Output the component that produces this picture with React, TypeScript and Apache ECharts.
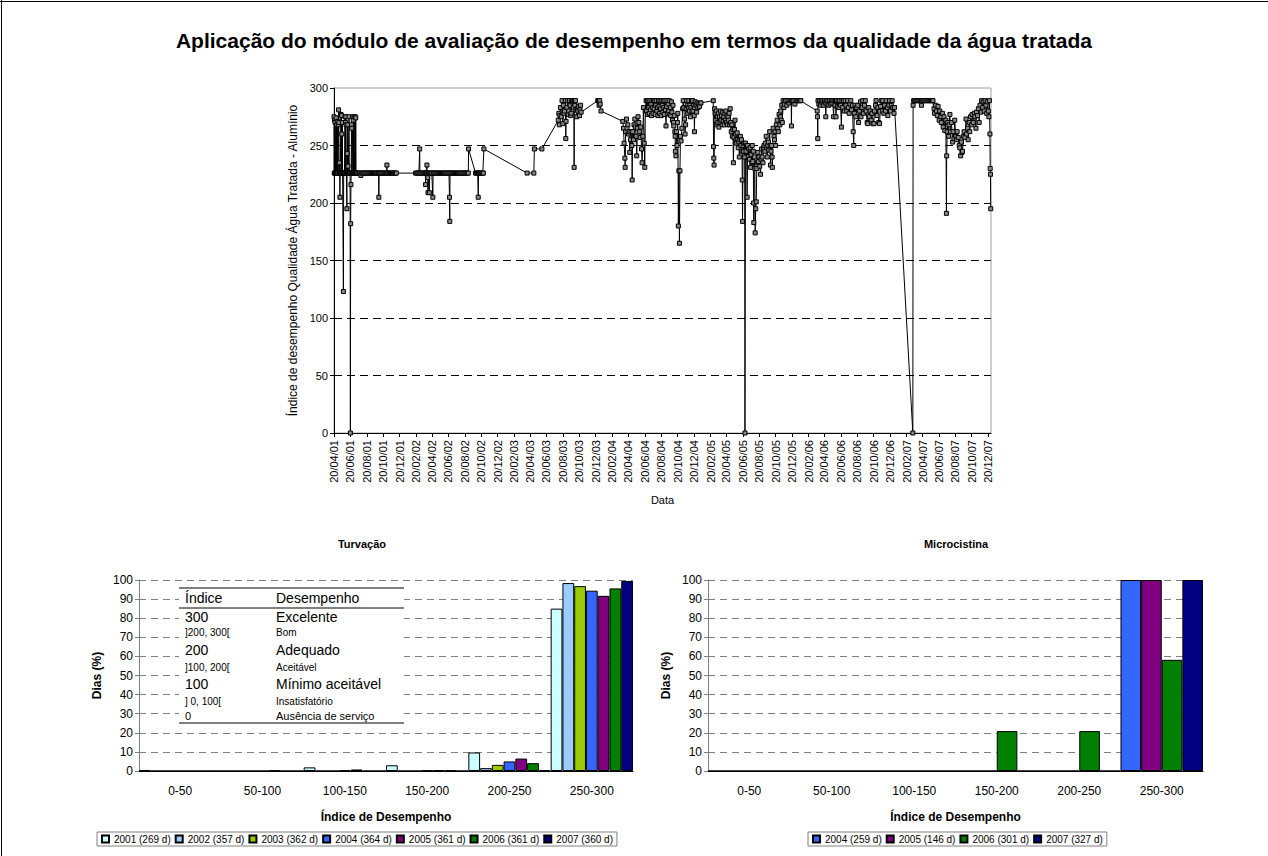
import React, { useEffect, useRef } from "react";
import * as echarts from "echarts";

const FONT = "'Liberation Sans', Arial, Helvetica, sans-serif";

// ---------- Top chart: daily index (Alumínio) ----------
// x = day number counted from 20/04/2001, y = performance index
const axisStart = Date.UTC(2001, 3, 20);
const axisEnd = Date.UTC(2007, 11, 31);

const alum2001 = [
  [0, 275], [1, 226], [2, 272], [3, 226], [4, 270], [5, 226], [6, 226], [8, 274], [9, 226], [10, 268], [11, 226], [12, 226],
  [14, 271], [15, 226], [16, 268], [17, 281], [18, 270], [19, 226], [20, 235], [21, 226], [22, 205], [23, 226], [24, 226],
  [26, 277], [27, 226], [28, 276], [29, 260], [30, 226], [31, 270], [32, 226], [33, 226], [35, 123], [36, 226], [37, 226],
  [39, 226], [41, 275], [42, 226], [43, 270], [44, 275], [45, 268], [46, 226], [47, 226], [48, 195], [49, 243], [50, 226],
  [51, 268], [52, 232], [53, 226], [54, 226], [56, 275], [57, 226], [58, 226], [60, 226], [61, 0], [62, 182], [63, 216],
  [64, 226], [65, 268], [66, 265], [67, 226], [68, 226], [70, 275], [71, 226], [72, 272], [73, 226], [75, 275], [76, 226],
  [77, 226], [79, 275], [80, 226], [81, 274], [82, 226], [84, 226], [86, 226], [90, 226], [94, 226], [97, 226], [100, 224],
  [103, 226], [107, 226], [111, 226], [115, 226], [119, 226], [123, 226], [127, 226], [131, 226], [135, 226], [139, 226],
  [143, 226], [147, 226], [151, 226], [155, 226], [159, 226], [163, 226], [166, 226], [167, 205], [168, 226], [171, 226],
  [175, 226], [179, 226], [183, 226], [187, 226], [191, 226], [195, 226], [197, 233], [198, 226], [202, 226], [206, 226],
  [210, 226], [214, 226], [218, 226], [222, 226], [226, 226], [229, 226], [232, 226],
];

const alum2002 = [
  [304, 226], [308, 226], [312, 226], [316, 226], [319, 247], [320, 226], [324, 226], [328, 226], [332, 226], [336, 226],
  [340, 226], [341, 216], [342, 226], [344, 226], [346, 233], [347, 226], [349, 222], [350, 209], [352, 226], [355, 209],
  [356, 226], [360, 226], [364, 226], [368, 205], [369, 226], [372, 226], [376, 226], [380, 226], [384, 226], [388, 226],
  [392, 226], [396, 226], [400, 226], [404, 226], [408, 226], [412, 226], [416, 226], [420, 226], [424, 226], [428, 226],
  [430, 205], [431, 184], [432, 226], [436, 226], [440, 226], [444, 226], [448, 226], [452, 226], [456, 226], [460, 226],
  [464, 226], [468, 226], [472, 226], [476, 226], [480, 226], [484, 226], [488, 226], [492, 226], [496, 226], [500, 226],
  [501, 247], [527, 226], [531, 226], [535, 226], [537, 205], [538, 226], [542, 226], [546, 226], [550, 226], [554, 226],
  [556, 226], [558, 247],
];

const alum2003 = [
  [719, 226], [744, 226], [746, 247], [774, 247], [835, 272], [837, 278], [839, 268], [841, 276], [843, 283], [846, 275],
  [849, 289], [850, 279], [852, 269], [854, 285], [856, 278], [858, 280], [861, 289], [863, 256], [864, 271], [867, 283],
  [870, 289], [872, 277], [874, 280], [877, 289], [879, 285], [881, 276], [883, 278], [885, 288], [887, 289], [889, 289],
  [891, 283], [893, 289], [894, 231], [895, 289], [897, 285], [899, 289], [901, 281], [904, 275], [906, 282], [908, 280],
  [911, 284], [914, 276], [916, 281], [918, 285], [920, 279], [982, 289], [985, 289], [987, 285], [989, 289], [991, 286],
  [994, 280],
];

const alum2004 = [
  [1075, 271], [1078, 265], [1080, 252], [1083, 239], [1084, 231], [1086, 262], [1089, 273], [1091, 265], [1094, 268],
  [1096, 260], [1099, 262], [1101, 244], [1104, 255], [1106, 262], [1109, 250], [1110, 220], [1112, 262], [1115, 255],
  [1117, 268], [1120, 273], [1122, 266], [1125, 258], [1127, 241], [1130, 265], [1132, 275], [1135, 270], [1137, 262],
  [1140, 257], [1142, 266], [1145, 247], [1147, 235], [1150, 258], [1152, 283], [1155, 252], [1157, 231], [1159, 280],
  [1162, 289], [1164, 280], [1166, 289], [1168, 277], [1170, 289], [1172, 283], [1174, 278], [1176, 289], [1178, 281],
  [1180, 286], [1182, 276], [1184, 289], [1186, 283], [1188, 278], [1190, 289], [1192, 282], [1194, 289], [1196, 277],
  [1198, 285], [1200, 289], [1202, 280], [1204, 283], [1206, 276], [1208, 289], [1210, 284], [1212, 278], [1214, 289],
  [1216, 282], [1218, 276], [1220, 289], [1222, 285], [1224, 279], [1226, 289], [1228, 283], [1230, 277], [1232, 289],
  [1234, 281], [1236, 267], [1238, 284], [1240, 289], [1242, 278], [1244, 286], [1246, 280], [1248, 289], [1250, 277],
  [1252, 283], [1254, 276], [1256, 288], [1258, 279], [1260, 272], [1262, 285], [1264, 270], [1265, 267], [1267, 276],
  [1269, 262], [1270, 258], [1271, 245], [1273, 241], [1275, 262], [1277, 250], [1279, 270], [1280, 278], [1282, 180],
  [1284, 228], [1286, 165], [1288, 228], [1290, 258], [1292, 254], [1295, 265], [1298, 282], [1300, 289], [1302, 283],
  [1305, 273], [1307, 260], [1309, 268], [1311, 282], [1313, 289], [1315, 285], [1317, 278], [1319, 283], [1321, 289],
  [1323, 280], [1325, 285], [1327, 275], [1329, 283], [1331, 289], [1333, 280], [1335, 289], [1337, 280], [1339, 285],
  [1341, 276], [1342, 262], [1343, 283], [1345, 288], [1348, 285], [1350, 279], [1352, 287], [1355, 283], [1358, 286],
  [1361, 284], [1364, 287], [1366, 287],
];

const alum2005 = [
  [1412, 289], [1413, 249], [1414, 239], [1415, 233], [1417, 282], [1419, 278], [1421, 272], [1423, 280], [1425, 268],
  [1427, 275], [1429, 270], [1431, 278], [1433, 266], [1435, 275], [1437, 270], [1439, 280], [1441, 272], [1443, 276],
  [1445, 268], [1447, 279], [1449, 271], [1451, 275], [1453, 268], [1455, 278], [1457, 272], [1459, 280], [1461, 270],
  [1463, 276], [1465, 268], [1467, 275], [1469, 272], [1471, 278], [1473, 268], [1475, 282], [1477, 270], [1479, 262],
  [1481, 268], [1483, 258], [1485, 264], [1487, 235], [1489, 257], [1491, 264], [1493, 272], [1495, 260], [1497, 255],
  [1499, 252], [1501, 261], [1503, 255], [1505, 248], [1507, 253], [1509, 240], [1511, 255], [1513, 258], [1515, 250],
  [1517, 255], [1519, 245], [1520, 220], [1521, 184], [1523, 250], [1525, 245], [1527, 252], [1529, 240], [1530, 0],
  [1532, 252], [1534, 245], [1536, 250], [1538, 205], [1540, 250], [1542, 240], [1544, 247], [1547, 238], [1549, 248],
  [1551, 231], [1553, 242], [1555, 235], [1557, 250], [1559, 236], [1561, 245], [1562, 200], [1563, 183], [1565, 240],
  [1567, 230], [1568, 174], [1570, 195], [1572, 201], [1574, 230], [1576, 235], [1578, 244], [1580, 236], [1582, 240],
  [1585, 232], [1588, 225], [1590, 238], [1592, 247], [1594, 240], [1597, 235], [1599, 248], [1601, 250], [1604, 245],
  [1606, 252], [1609, 258], [1611, 248], [1613, 240], [1615, 250], [1617, 253], [1619, 246], [1622, 262], [1624, 250],
  [1625, 233], [1627, 245], [1629, 250], [1631, 240], [1632, 231], [1635, 265], [1638, 258], [1640, 255], [1642, 262],
  [1644, 250], [1647, 268], [1650, 272], [1652, 265], [1654, 262], [1657, 277], [1660, 268], [1662, 275], [1663, 280],
  [1665, 272], [1667, 285], [1669, 270], [1672, 289], [1675, 283], [1677, 286], [1679, 289], [1682, 289], [1686, 285],
  [1690, 289], [1694, 287], [1698, 289], [1702, 289], [1703, 267], [1704, 289], [1708, 289], [1712, 289], [1716, 286],
  [1720, 289], [1724, 289], [1728, 289], [1732, 289], [1736, 289], [1738, 289],
];

const alum2006 = [
  [1799, 280], [1800, 275], [1801, 256], [1802, 289], [1805, 286], [1808, 289], [1811, 285], [1814, 289], [1817, 287],
  [1820, 289], [1823, 285], [1826, 289], [1829, 287], [1831, 275], [1833, 289], [1836, 286], [1839, 289], [1842, 285],
  [1845, 289], [1848, 286], [1851, 289], [1854, 287], [1857, 289], [1860, 275], [1862, 289], [1865, 285], [1867, 289],
  [1869, 275], [1871, 289], [1874, 284], [1877, 289], [1880, 283], [1883, 289], [1886, 285], [1889, 266], [1891, 289],
  [1894, 283], [1897, 289], [1900, 280], [1903, 289], [1906, 285], [1909, 280], [1912, 289], [1915, 283], [1918, 278],
  [1921, 286], [1924, 289], [1927, 281], [1930, 285], [1933, 262], [1935, 250], [1937, 278], [1940, 285], [1943, 275],
  [1946, 283], [1950, 285], [1953, 270], [1956, 280], [1960, 288], [1962, 275], [1966, 283], [1968, 289], [1971, 278],
  [1975, 285], [1978, 289], [1981, 280], [1985, 270], [1987, 269], [1991, 283], [1993, 275], [1996, 280], [2000, 272],
  [2003, 278], [2006, 269], [2010, 269], [2012, 280], [2016, 285], [2018, 289], [2022, 276], [2025, 283], [2028, 270],
  [2031, 269], [2035, 284], [2037, 289], [2041, 280], [2043, 289], [2047, 278], [2050, 285], [2053, 280], [2056, 289],
  [2060, 283], [2062, 276], [2066, 285], [2068, 289], [2072, 280], [2075, 285], [2078, 289], [2081, 283], [2085, 278],
  [2087, 283],
];

const alum2007 = [
  [2155, 0], [2156, 285], [2158, 289], [2162, 289], [2166, 289], [2170, 289], [2174, 289], [2178, 289], [2182, 289],
  [2186, 289], [2187, 285], [2188, 289], [2192, 289], [2196, 289], [2200, 289], [2204, 289], [2208, 289], [2212, 289],
  [2216, 289], [2220, 289], [2224, 289], [2228, 289], [2230, 289], [2234, 282], [2236, 278], [2240, 285], [2243, 280],
  [2246, 276], [2249, 284], [2253, 272], [2255, 280], [2259, 275], [2261, 270], [2265, 278], [2268, 266], [2271, 275],
  [2274, 263], [2278, 272], [2280, 191], [2281, 241], [2283, 262], [2285, 270], [2288, 258], [2290, 268], [2293, 277],
  [2295, 262], [2299, 270], [2303, 253], [2305, 262], [2308, 256], [2311, 272], [2315, 258], [2318, 255], [2320, 262],
  [2324, 257], [2328, 250], [2330, 248], [2333, 241], [2336, 253], [2338, 244], [2340, 245], [2343, 258], [2346, 262],
  [2349, 257], [2353, 273], [2355, 260], [2359, 265], [2361, 255], [2365, 270], [2367, 262], [2370, 275], [2374, 268],
  [2376, 277], [2380, 270], [2384, 278], [2386, 275], [2390, 265], [2392, 279], [2396, 276], [2399, 282], [2402, 270],
  [2405, 285], [2409, 279], [2411, 289], [2415, 283], [2417, 288], [2421, 280], [2424, 289], [2427, 285], [2430, 278],
  [2432, 288], [2436, 280], [2438, 275], [2440, 289], [2442, 260], [2443, 230], [2444, 225], [2445, 195],
];

// ---------- Bottom charts ----------
const binLabels = ["0-50", "50-100", "100-150", "150-200", "200-250", "250-300"];

const turvNames = ["2001 (269 d)", "2002 (357 d)", "2003 (362 d)", "2004 (364 d)", "2005 (361 d)", "2006 (361 d)", "2007 (360 d)"];
const turv2001 = [0.4, 0, 1.9, 3.0, 9.7, 85.0];
const turv2002 = [0, 0, 0, 0, 1.5, 98.4];
const turv2003 = [0, 0, 0, 0, 3.2, 96.8];
const turv2004 = [0, 0, 0.3, 0.3, 5.0, 94.4];
const turv2005 = [0, 0.3, 0.8, 0.4, 6.5, 91.7];
const turv2006 = [0, 0, 0, 0.3, 4.1, 95.6];
const turv2007 = [0, 0, 0, 0, 0.5, 99.5];

const microNames = ["2004 (259 d)", "2005 (146 d)", "2006 (301 d)", "2007 (327 d)"];
const micro2004 = [0, 0, 0, 0, 0, 100];
const micro2005 = [0, 0, 0, 0, 0, 100];
const micro2006 = [0, 0, 0, 20.9, 20.9, 58.2];
const micro2007 = [0, 0, 0, 0, 0, 100];

const tableHeader = ["Índice", "Desempenho"];
const tableIdx = ["300", "]200, 300[", "200", "]100, 200[", "100", "] 0, 100[", "0"];
const tableDesc = ["Excelente", "Bom", "Adequado", "Aceitável", "Mínimo aceitável", "Insatisfatório", "Ausência de serviço"];

const mainTitle = "Aplicação do módulo de avaliação de desempenho em termos da qualidade da água tratada";
const topYName = "Índice de desempenho Qualidade Água Tratada - Alumínio";

// styles
const yearColors: Record<string, string> = {
  "2001": "#CCFFFF", "2002": "#99CCFF", "2003": "#99CC00", "2004": "#3366FF",
  "2005": "#800080", "2006": "#008000", "2007": "#000080",
};
const tableRowY = [617, 632, 650, 667, 684, 701, 716];
const tableRowSize = [14, 10, 14, 10, 14, 10, 11];

function buildDays(): string[] {
  const out: string[] = [];
  for (let t = axisStart; t <= axisEnd; t += 86400000) {
    const d = new Date(t);
    const dd = String(d.getUTCDate()).padStart(2, "0");
    const mm = String(d.getUTCMonth() + 1).padStart(2, "0");
    const yy = String(d.getUTCFullYear() % 100).padStart(2, "0");
    out.push(dd + "/" + mm + "/" + yy);
  }
  return out;
}

function buildOption() {
  const days = buildDays();
  const showTick = (_i: number, v: string) => v.slice(0, 2) === "20" && Number(v.slice(3, 5)) % 2 === 0;
  const points = [...alum2001, ...alum2002, ...alum2003, ...alum2004, ...alum2005, ...alum2006, ...alum2007];

  const turvData = [turv2001, turv2002, turv2003, turv2004, turv2005, turv2006, turv2007];
  const microData = [micro2004, micro2005, micro2006, micro2007];

  const barSeries = (names: string[], data: number[][], idx: number) =>
    names.map((n, i) => ({
      type: "bar",
      name: n,
      xAxisIndex: idx,
      yAxisIndex: idx,
      data: data[i],
      barGap: "0%",
      barCategoryGap: "0%",
      itemStyle: { color: yearColors[n.slice(0, 4)], borderColor: "#000", borderWidth: 1 },
      silent: true,
    }));

  const bottomX = (gi: number) => ({
    gridIndex: gi,
    type: "category",
    data: binLabels,
    axisLine: { lineStyle: { color: "#000", width: 1 } },
    axisTick: { length: 5, lineStyle: { color: "#000" } },
    axisLabel: { fontSize: 12, color: "#000", margin: 14, fontFamily: FONT },
    name: "Índice de Desempenho",
    nameLocation: "middle",
    nameGap: 40,
    nameTextStyle: { fontSize: 12, fontWeight: "bold", color: "#000", fontFamily: FONT },
  });
  const bottomY = (gi: number) => ({
    gridIndex: gi,
    type: "value",
    min: 0,
    max: 100,
    interval: 10,
    axisLine: { show: true, lineStyle: { color: "#808080" } },
    axisTick: { show: true, length: 4, lineStyle: { color: "#808080" } },
    axisLabel: { fontSize: 12, color: "#000", margin: 6, fontFamily: FONT },
    splitLine: { show: true, lineStyle: { color: "#808080", type: [7, 5], width: 1 } },
    name: "Dias (%)",
    nameLocation: "middle",
    nameGap: 36,
    nameTextStyle: { fontSize: 12, fontWeight: "bold", color: "#000", fontFamily: FONT },
  });

  const legendBase = {
    orient: "horizontal",
    top: 832,
    icon: "rect",
    itemWidth: 7,
    itemHeight: 7,
    itemGap: 4,
    padding: [2, 4, 2, 4],
    borderColor: "#808080",
    borderWidth: 1,
    selectedMode: false,
    textStyle: { fontSize: 10, color: "#000", fontFamily: FONT },
  };

  const tableX0 = 179, tableX1 = 404, col1 = 185, col2 = 276;
  const graphic: any[] = [
    { type: "line", shape: { x1: 1.5, y1: 0, x2: 1.5, y2: 856 }, style: { stroke: "#000", lineWidth: 1 } },
    { type: "line", shape: { x1: 0, y1: 1.5, x2: 1268, y2: 1.5 }, style: { stroke: "#000", lineWidth: 1 } },
    { type: "text", x: 634, y: 40, style: { text: mainTitle, font: "bold 21px " + FONT, fill: "#000", textAlign: "center", textVerticalAlign: "middle" } },
    { type: "text", x: 362, y: 544, style: { text: "Turvação", font: "bold 11px " + FONT, fill: "#000", textAlign: "center", textVerticalAlign: "middle" } },
    { type: "text", x: 956, y: 544, style: { text: "Microcistina", font: "bold 11px " + FONT, fill: "#000", textAlign: "center", textVerticalAlign: "middle" } },
    { type: "rect", shape: { x: tableX0, y: 588, width: tableX1 - tableX0, height: 135 }, style: { fill: "#fff" }, z: 50 },
    { type: "line", shape: { x1: tableX0, y1: 588, x2: tableX1, y2: 588 }, style: { stroke: "#000", lineWidth: 1 }, z: 51 },
    { type: "line", shape: { x1: tableX0, y1: 608, x2: tableX1, y2: 608 }, style: { stroke: "#000", lineWidth: 1 }, z: 51 },
    { type: "line", shape: { x1: tableX0, y1: 723, x2: tableX1, y2: 723 }, style: { stroke: "#000", lineWidth: 1 }, z: 51 },
    { type: "text", x: col1, y: 598, z: 51, style: { text: tableHeader[0], font: "14px " + FONT, fill: "#000", textAlign: "left", textVerticalAlign: "middle" } },
    { type: "text", x: col2, y: 598, z: 51, style: { text: tableHeader[1], font: "14px " + FONT, fill: "#000", textAlign: "left", textVerticalAlign: "middle" } },
  ];
  tableIdx.forEach((t, i) => {
    graphic.push({ type: "text", x: col1, y: tableRowY[i], z: 51, style: { text: t, font: tableRowSize[i] + "px " + FONT, fill: "#000", textAlign: "left", textVerticalAlign: "middle" } });
    graphic.push({ type: "text", x: col2, y: tableRowY[i], z: 51, style: { text: tableDesc[i], font: tableRowSize[i] + "px " + FONT, fill: "#000", textAlign: "left", textVerticalAlign: "middle" } });
  });

  return {
    animation: false,
    backgroundColor: "#fff",
    textStyle: { fontFamily: FONT },
    grid: [
      { left: 334, top: 88, width: 657, height: 345, show: true, borderColor: "#a0a0a0", borderWidth: 1, backgroundColor: "rgba(0,0,0,0)" },
      { left: 139, top: 580, width: 494, height: 191 },
      { left: 708, top: 580, width: 495, height: 191 },
    ],
    xAxis: [
      {
        gridIndex: 0,
        type: "category",
        data: days,
        boundaryGap: false,
        axisLine: { lineStyle: { color: "#000", width: 1 } },
        axisTick: { show: true, interval: showTick, length: 4, lineStyle: { color: "#000" } },
        axisLabel: { interval: showTick, rotate: 90, fontSize: 11, color: "#000", margin: 7, fontFamily: FONT },
        splitLine: { show: false },
        name: "Data",
        nameLocation: "middle",
        nameGap: 61,
        nameTextStyle: { fontSize: 11, color: "#000", fontFamily: FONT },
      },
      bottomX(1),
      bottomX(2),
    ],
    yAxis: [
      {
        gridIndex: 0,
        type: "value",
        min: 0,
        max: 300,
        interval: 50,
        axisLine: { show: true, lineStyle: { color: "#000" } },
        axisTick: { show: true, length: 4, lineStyle: { color: "#000" } },
        axisLabel: { fontSize: 11, color: "#000", margin: 6, fontFamily: FONT },
        splitLine: {
          show: true,
          lineStyle: { color: ["rgba(0,0,0,0)", "#000", "#000", "#000", "#000", "#000", "rgba(0,0,0,0)"], type: [8, 5], width: 1 },
        },
        name: topYName,
        nameLocation: "middle",
        nameGap: 35,
        nameTextStyle: { fontSize: 12, color: "#000", fontFamily: FONT },
      },
      bottomY(1),
      bottomY(2),
    ],
    legend: [
      { ...legendBase, left: 97, data: turvNames },
      { ...legendBase, left: 808, data: microNames },
    ],
    series: [
      {
        type: "line",
        name: "Alumínio",
        xAxisIndex: 0,
        yAxisIndex: 0,
        data: points,
        symbol: "rect",
        symbolSize: 4,
        showAllSymbol: true,
        lineStyle: { color: "#000", width: 1 },
        itemStyle: { color: "#888888", borderColor: "#000", borderWidth: 1 },
        silent: true,
        z: 3,
      },
      ...barSeries(turvNames, turvData, 1),
      ...barSeries(microNames, microData, 2),
    ],
    graphic,
  };
}

export default function App() {
  const ref = useRef<HTMLDivElement>(null);
  useEffect(() => {
    if (!ref.current) return;
    const chart = echarts.init(ref.current, undefined, { renderer: "svg" });
    chart.setOption(buildOption() as any);
    return () => chart.dispose();
  }, []);
  return (
    <div
      ref={ref}
      style={{ position: "absolute", left: 0, top: 0, width: 1268, height: 856, background: "#fff" }}
    />
  );
}
